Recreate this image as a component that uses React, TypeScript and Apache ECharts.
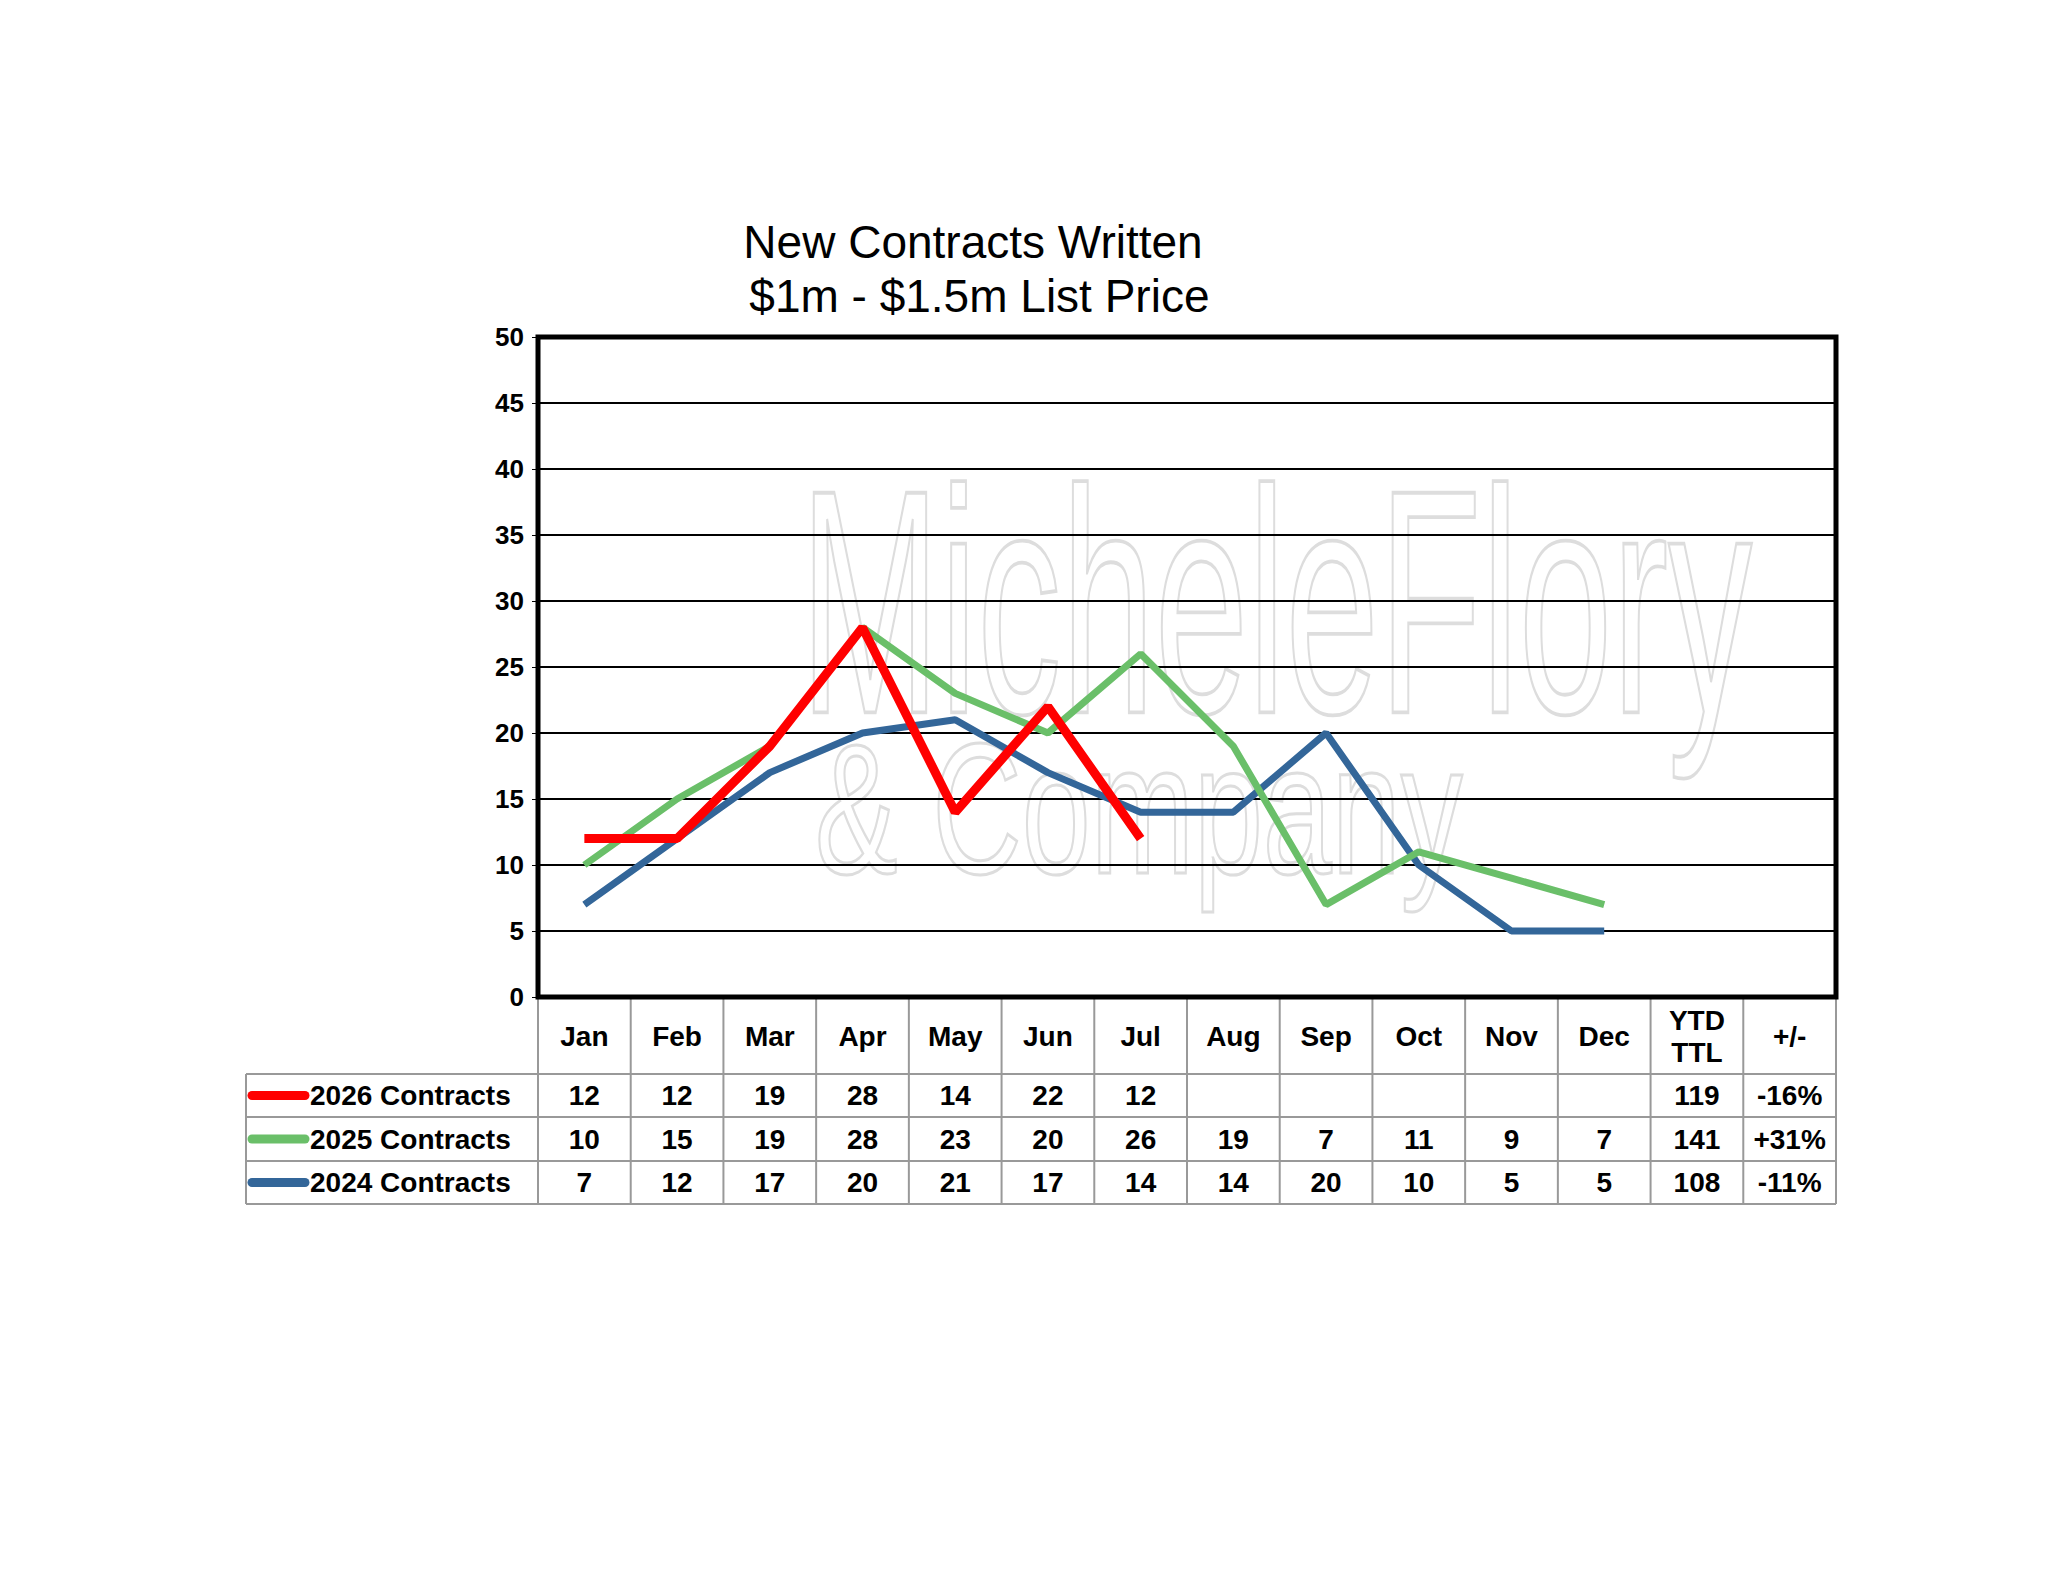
import React, { useEffect, useRef } from "react";
import * as echarts from "echarts";

const months = ["Jan","Feb","Mar","Apr","May","Jun","Jul","Aug","Sep","Oct","Nov","Dec"];
const seriesNames = ["2026 Contracts","2025 Contracts","2024 Contracts"];
const colors = ["#ff0000","#6abf69","#336699"];
const v2026: (number|null)[] = [12,12,19,28,14,22,12,null,null,null,null,null];
const v2025: (number|null)[] = [10,15,19,28,23,20,26,19,7,11,9,7];
const v2024: (number|null)[] = [7,12,17,20,21,17,14,14,20,10,5,5];
const ytd = ["119","141","108"];
const change = ["-16%","+31%","-11%"];

export default function App() {
  const ref = useRef<HTMLDivElement>(null);
  useEffect(() => {
    document.body.style.margin = "0";
    const chart = echarts.init(ref.current!, null, { renderer: "svg" });
    const L = 538, R = 1836, T = 337, B = 997;
    const colW = (R - L) / 14;
    const tabLeft = 246;
    const rows = [999, 1074, 1117, 1161, 1204];
    const F = "Liberation Sans, Arial, sans-serif";
    const g: any[] = [];
    const gray = "#999";
    g.push({ type: "text", x: 800, y: 442, scaleY: 1.9, z: 0, style: { text: "MicheleFlory", font: "168px " + F, fill: "none", stroke: "#dddddd", lineWidth: 2 } });
    g.push({ type: "text", x: 815, y: 715, scaleY: 1.5, z: 0, style: { text: "& Company", font: "124px " + F, fill: "none", stroke: "#dddddd", lineWidth: 2 } });
    for (let i = 0; i <= 14; i++) {
      const x = L + i * colW;
      g.push({ type: "line", shape: { x1: x, y1: B, x2: x, y2: rows[4] }, style: { stroke: gray, lineWidth: 2 } });
    }
    g.push({ type: "line", shape: { x1: tabLeft, y1: rows[1], x2: tabLeft, y2: rows[4] }, style: { stroke: gray, lineWidth: 2 } });
    for (let r = 1; r <= 4; r++) {
      g.push({ type: "line", shape: { x1: tabLeft, y1: rows[r], x2: R, y2: rows[r] }, style: { stroke: gray, lineWidth: 2 } });
    }
    const hdr = [...months, "YTD\nTTL", "+/-"];
    hdr.forEach((h, i) => {
      g.push({ type: "text", x: L + (i + 0.5) * colW, y: (rows[0] + rows[1]) / 2, style: { text: h, font: "bold 28px " + F, fill: "#000", align: "center", verticalAlign: "middle", lineHeight: 32 } });
    });
    const data = [v2026, v2025, v2024];
    data.forEach((vals, r) => {
      const cy = (rows[r + 1] + rows[r + 2]) / 2;
      g.push({ type: "line", shape: { x1: 252, y1: cy, x2: 305, y2: cy }, style: { stroke: colors[r], lineWidth: 9, lineCap: "round" } });
      g.push({ type: "text", x: 310, y: cy, style: { text: seriesNames[r], font: "bold 28px " + F, fill: "#000", verticalAlign: "middle" } });
      const cells = [...vals.map(v => (v == null ? "" : String(v))), ytd[r], change[r]];
      cells.forEach((c, i) => {
        g.push({ type: "text", x: L + (i + 0.5) * colW, y: cy, style: { text: c, font: "bold 28px " + F, fill: "#000", align: "center", verticalAlign: "middle" } });
      });
    });
    g.push({ type: "rect", z: 10, shape: { x: L, y: T, width: R - L, height: B - T }, style: { fill: "none", stroke: "#000", lineWidth: 5 } });
    chart.setOption({
      animation: false,
      title: {
        text: "New Contracts Written\n $1m - $1.5m List Price",
        left: 968, top: 210, textAlign: "center",
        textStyle: { fontFamily: F, fontWeight: "normal", fontSize: 46, lineHeight: 54, color: "#000" },
      },
      grid: { left: L, top: T, width: R - L, height: B - T },
      xAxis: { type: "category", data: [...months, "", ""], boundaryGap: true, axisLine: { show: false }, axisTick: { show: false }, axisLabel: { show: false } },
      yAxis: {
        type: "value", min: 0, max: 50, interval: 5,
        axisLine: { show: true, lineStyle: { color: "#000", width: 4 } },
        axisTick: { show: true, length: 6, lineStyle: { color: "#000" } },
        axisLabel: { fontFamily: F, fontWeight: "bold", fontSize: 26, color: "#000", margin: 14 },
        splitLine: { lineStyle: { color: "#000", width: 2 } },
      },
      series: data.map((d, i) => ({
        name: seriesNames[i], type: "line", data: d, symbol: "none", z: 5 - i,
        lineStyle: { color: colors[i], width: i === 0 ? 9 : 7 },
      })),
      graphic: g,
    });
    return () => chart.dispose();
  }, []);
  return <div ref={ref} style={{ width: 2048, height: 1583 }} />;
}
